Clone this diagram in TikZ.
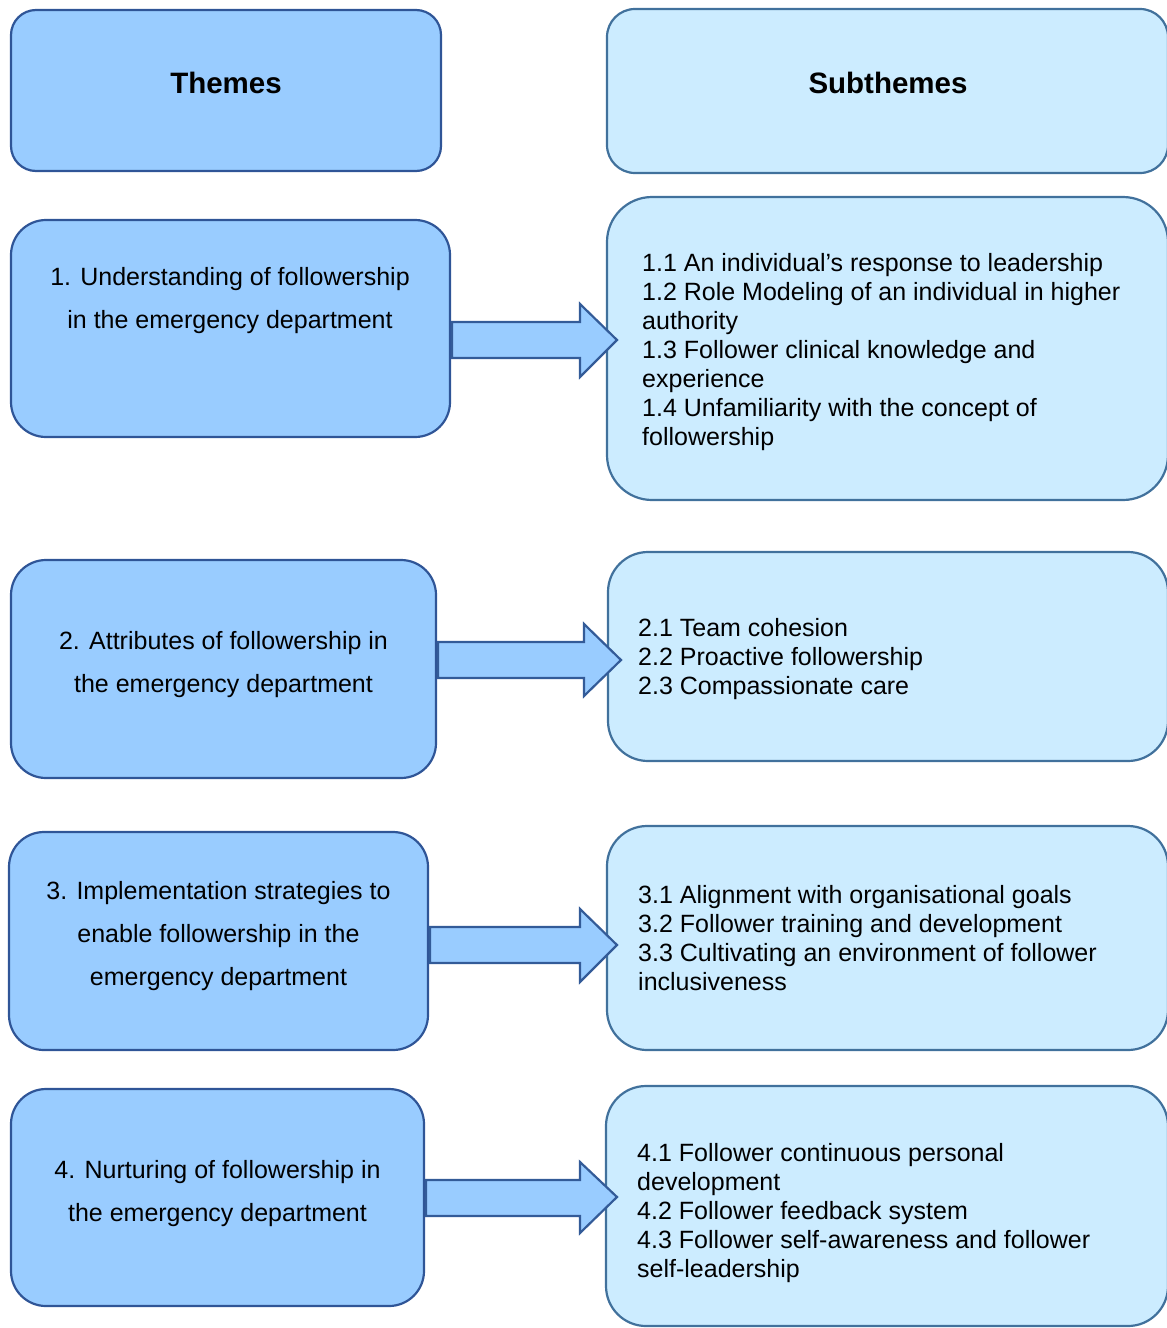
\documentclass[tikz,border=0pt]{standalone}
\usepackage{fontspec}
\setmainfont{Liberation Sans}
\usetikzlibrary{calc}
\definecolor{lfill}{HTML}{99CCFF}
\definecolor{rfill}{HTML}{CCECFF}
\definecolor{lborder}{HTML}{2F5597}
\definecolor{rborder}{HTML}{41719C}
\begin{document}
\begin{tikzpicture}[x=1pt,y=-1pt,
  lbox/.style={draw=lborder, fill=lfill, line width=2.2pt, rounded corners=#1, inner sep=0pt, outer sep=0pt, anchor=north west},
  lbox/.default=35pt,
  rbox/.style={draw=rborder, fill=rfill, line width=2.2pt, rounded corners=#1, inner sep=0pt, outer sep=0pt, anchor=north west},
  rbox/.default=40pt,
  head/.style={font=\fontsize{29.5}{34}\selectfont\bfseries, inner sep=0pt, anchor=base},
  ltxt/.style={font=\fontsize{25}{43}\selectfont, align=center, inner sep=0pt, anchor=base},
  rtxt/.style={font=\fontsize{25}{29}\selectfont, align=left, inner sep=0pt, anchor=base west},
  blk/.style={draw=lborder!80!rborder, fill=lfill, line width=2.2pt, line join=miter}
]
\useasboundingbox (0,0) rectangle (1167,1328);
\clip (0,0) rectangle (1167,1328);

% header boxes
\node[lbox=25pt, minimum width=430pt, minimum height=161pt] (T) at (11,10) {};
\node[rbox=28pt, minimum width=561pt, minimum height=164pt] (S) at (607,9) {};
\node[head] (Tt) at (226,93) {Themes};
\node[head] (St) at (888,93) {Subthemes};

% row boxes
\node[lbox, minimum width=439pt, minimum height=217pt] (L1) at (11,220) {};
\node[rbox=45pt, minimum width=561pt, minimum height=303pt] (R1) at (607,197) {};
\node[lbox, minimum width=425pt, minimum height=218pt] (L2) at (11,560) {};
\node[rbox, minimum width=560pt, minimum height=209pt] (R2) at (608,552) {};
\node[lbox, minimum width=419pt, minimum height=218pt] (L3) at (9,832) {};
\node[rbox, minimum width=561pt, minimum height=224pt] (R3) at (607,826) {};
\node[lbox, minimum width=413pt, minimum height=217pt] (L4) at (11,1089) {};
\node[rbox, minimum width=562pt, minimum height=240pt] (R4) at (606,1086) {};

% texts (base anchor = baseline of the last line)
\node[ltxt] (L1t) at (230,328) {1. Understanding of followership\\in the emergency department};
\node[ltxt] (L2t) at (223.5,692) {2. Attributes of followership in\\the emergency department};
\node[ltxt] (L3t) at (218.5,985) {3. Implementation strategies to\\enable followership in the\\emergency department};
\node[ltxt] (L4t) at (217.5,1221) {4. Nurturing of followership in\\the emergency department};

\node[rtxt] (R1t) at (642,445) {1.1 An individual’s response to leadership\\1.2 Role Modeling of an individual in higher\\authority\\1.3 Follower clinical knowledge and\\experience\\1.4 Unfamiliarity with the concept of\\followership};
\node[rtxt] (R2t) at (638,694) {2.1 Team cohesion\\2.2 Proactive followership\\2.3 Compassionate care};
\node[rtxt] (R3t) at (638,990) {3.1 Alignment with organisational goals\\3.2 Follower training and development\\3.3 Cultivating an environment of follower\\inclusiveness};
\node[rtxt] (R4t) at (637,1277) {4.1 Follower continuous personal\\development\\4.2 Follower feedback system\\4.3 Follower self-awareness and follower\\self-leadership};

% block arrows
\draw[blk] ($(L1.east |- 0,322)+(2,0)$) -- (580,322) -- (580,304) -- ($(R1.west |- 0,340)+(10,0)$) -- (580,377) -- (580,358) -- ($(L1.east |- 0,358)+(2,0)$) -- cycle;
\draw[blk] ($(L2.east |- 0,642)+(2,0)$) -- (584,642) -- (584,624) -- ($(R2.west |- 0,660)+(13,0)$) -- (584,696) -- (584,678) -- ($(L2.east |- 0,678)+(2,0)$) -- cycle;
\draw[blk] ($(L3.east |- 0,927)+(2,0)$) -- (580,927) -- (580,909) -- ($(R3.west |- 0,945)+(10,0)$) -- (580,982) -- (580,963) -- ($(L3.east |- 0,963)+(2,0)$) -- cycle;
\draw[blk] ($(L4.east |- 0,1180)+(2,0)$) -- (580,1180) -- (580,1162) -- ($(R4.west |- 0,1197)+(11,0)$) -- (580,1233) -- (580,1216) -- ($(L4.east |- 0,1216)+(2,0)$) -- cycle;
\end{tikzpicture}
\end{document}
